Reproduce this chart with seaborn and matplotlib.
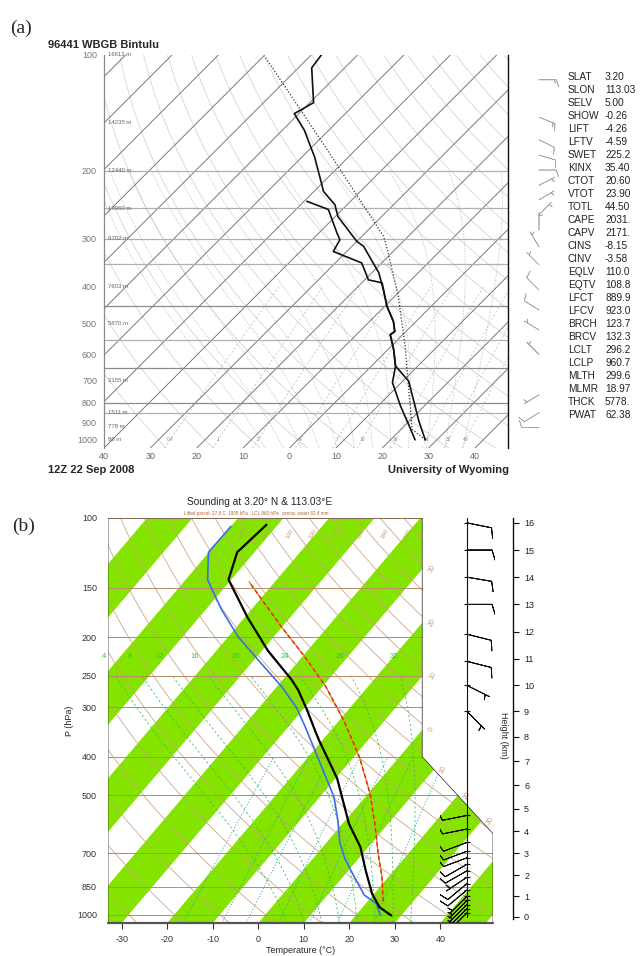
import numpy as np
import pandas as pd
import matplotlib
matplotlib.use("Agg")
import matplotlib.pyplot as plt
from matplotlib.patches import Polygon
import seaborn as sns

sns.set_theme(style="white")
plt.rcParams["font.family"] = ["Liberation Sans", "DejaVu Sans"]

# ---------------- data: panel (a) (UWyo sounding) ----------------
a_T_p = [1000, 894, 704, 643, 582, 533, 523, 492, 450, 407, 368, 314, 305, 263, 245, 226, 217, 184, 157, 142, 133, 108, 100]
a_T = [27.5, 22.1, 11.3, 5.2, 1.2, -2.7, -2.4, -4.9, -9.5, -13.9, -18.5, -27.5, -30.0, -39.4, -42.6, -48.0, -49.8, -57.3, -65.2, -71.0, -69.2, -77.1, -77.8]
a_Td_p = [1000, 939, 817, 710, 643, 582, 533, 523, 492, 450, 391, 388, 384, 347, 324, 302, 290, 252, 240]
a_Td = [25.3, 22.1, 14.9, 8.1, 5.2, 1.2, -2.7, -2.4, -4.9, -9.5, -15.6, -17.1, -19.2, -24.3, -32.9, -34.0, -36.1, -43.0, -49.4]
a_par_p = [1000, 939, 740, 571, 424, 320, 296, 176, 101]
a_par_T = [27.5, 22.4, 13.1, 3.0, -9.2, -21.7, -25.3, -56.2, -89.6]
a_hgt_p = [100, 150, 200, 250, 300, 400, 500, 700, 850, 925, 1000]
a_hgt_lab = ["16613 m", "14235 m", "12440 m", "10960 m", "9702 m", "7603 m", "5870 m", "3155 m", "1511 m", "778 m", "86 m"]
a_isobars = [200, 250, 300, 350, 450, 550, 650, 800, 850]
a_mix = [0.4, 1, 2, 4, 7, 10, 16, 24, 32, 40]
a_barb_p = [116, 145, 166, 182, 199, 218, 238, 260, 285, 315, 351, 408, 460, 518, 600, 764, 850, 929]
a_barb_u = [-15, -12, -10, -10, -8, -6, -5, -5, 0, 3, 5, 8, 8, 5, 3, 5, 8, 10]
a_barb_v = [0, 5, 5, 3, 0, -3, -3, -5, -5, -5, -5, -8, -5, -3, -3, 3, 5, 0]
stat_names = ["SLAT", "SLON", "SELV", "SHOW", "LIFT", "LFTV", "SWET", "KINX", "CTOT", "VTOT", "TOTL",
              "CAPE", "CAPV", "CINS", "CINV", "EQLV", "EQTV", "LFCT", "LFCV", "BRCH", "BRCV", "LCLT",
              "LCLP", "MLTH", "MLMR", "THCK", "PWAT"]
stat_vals = ["3.20", "113.03", "5.00", "-0.26", "-4.26", "-4.59", "225.2", "35.40", "20.60", "23.90", "44.50",
             "2031.", "2171.", "-8.15", "-3.58", "110.0", "108.8", "889.9", "923.0", "123.7", "132.3", "296.2",
             "960.7", "299.6", "18.97", "5778.", "62.38"]

# ---------------- data: panel (b) (RadioSonde style) ----------------
b_T_p = [1005, 958, 887, 774, 676, 590, 454, 363, 343, 305, 272, 256, 216, 178, 143, 122, 104]
b_T = [27.8, 23.7, 19.6, 13.8, 8.3, 1.4, -9.6, -20.8, -23.5, -29.0, -34.6, -38.0, -48.7, -59.4, -70.6, -73.8, -72.5]
b_Td_p = [1005, 958, 941, 893, 808, 724, 658, 575, 505, 425, 336, 300, 266, 228, 199, 170, 143, 122, 105]
b_Td = [25.5, 23.2, 22.6, 18.1, 12.8, 7.1, 2.9, -1.9, -6.9, -15.1, -26.3, -31.9, -39.0, -49.1, -57.9, -66.6, -75.2, -80.1, -80.0]
b_par_p = [926, 808, 700, 598, 494, 400, 324, 266, 224, 188, 145]
b_par_T = [23.4, 18.8, 13.3, 7.6, 0.3, -8.8, -19.0, -29.3, -39.4, -50.2, -65.6]
b_ptick = [1000, 850, 700, 500, 400, 300, 250, 200, 150, 100]
b_ttick = [-30, -20, -10, 0, 10, 20, 30, 40]
b_pseudo = [4, 8, 12, 16, 20, 24, 28, 32]
b_mixrat = [1, 2, 3, 5, 8, 12, 20]
b_iso_lab = [-30, -20, -10, 0, 10, 20, 30]
b_heights = list(range(0, 17))
b_barb_z = [16, 15, 14, 13, 11.9, 10.9, 10.0, 9.0, 4.7, 4.1, 3.5, 3.1, 2.8, 2.5, 2.2, 1.9, 1.6, 1.3, 1.0, 0.8, 0.6, 0.4, 0.2]
b_barb_u = [-10, -10, -12, -10, -8, -8, -6, -5, 10, 10, 8, 8, 8, 7, 7, 6, 6, 6, 5, 5, 5, 5, 5]
b_barb_v = [2, 0, 2, 0, 2, 2, 3, 5, 2, 2, 3, 3, 3, 4, 4, 4, 5, 5, 5, 5, 5, 5, 5]

# ---------------- helpers ----------------
W, H = 643, 956
fig = plt.figure(figsize=(W / 100, H / 100), dpi=100)


def fax(x0, y0, x1, y1):
    return fig.add_axes([x0 / W, 1 - y1 / H, (x1 - x0) / W, (y1 - y0) / H])


def ftext(x, y, s, **kw):
    fig.text(x / W, 1 - y / H, s, **kw)


def dry_T(theta_c, p):
    return (theta_c + 273.15) * (np.asarray(p) / 1000.0) ** 0.2857 - 273.15


def sat_es(T):
    return 6.112 * np.exp(17.67 * T / (T + 243.5))


def mixr_T(w_gkg, p):
    w = w_gkg / 1000.0
    e = w * np.asarray(p) / (0.622 + w)
    l = np.log(e / 6.112)
    return 243.5 * l / (17.67 - l)


def moist_curve(tw, ptop=100.0):
    def rate(T, p):
        Tk = T + 273.15
        es = sat_es(T)
        rs = 0.622 * es / (p - es)
        return (287.04 * Tk + 2.501e6 * rs) / p / (1005.7 + 2.501e6 ** 2 * rs * 0.622 / (287.04 * Tk ** 2))

    def integ(ps):
        Ts = [tw]
        for i in range(1, len(ps)):
            p0, T0 = ps[i - 1], Ts[-1]
            dp = ps[i] - p0
            k1 = rate(T0, p0)
            k2 = rate(T0 + k1 * dp / 2, p0 + dp / 2)
            Ts.append(T0 + k2 * dp)
        return np.array(Ts)

    up = np.arange(1000.0, ptop - 0.1, -2.0)
    dn = np.arange(1000.0, 1051.0, 2.0)
    Tu, Td_ = integ(up), integ(dn)
    p = np.concatenate([dn[::-1], up[1:]])
    T = np.concatenate([Td_[::-1], Tu[1:]])
    return p, T


def std_p(z_km):
    z = np.asarray(z_km, dtype=float) * 1000.0
    return np.where(z <= 11000, 1013.25 * (1 - 2.25577e-5 * z) ** 5.25588,
                    226.32 * np.exp(-(z - 11000) / 6341.6))


PG = np.geomspace(1050, 100, 150)

# =====================================================================
# Panel (a)
# =====================================================================
K_A = 36.0


def xa(T, p):
    return np.asarray(T) + K_A * np.log(1050.0 / np.asarray(p))


axA = fax(104, 55, 508, 448)
axA.set_yscale("log")
axA.set_ylim(1050, 100)
axA.set_xlim(-40, 47.1)

for th in range(-30, 220, 10):
    axA.plot(xa(dry_T(th, PG), PG), PG, color="#cdcdcd", lw=0.5, zorder=1)
for tw in range(-8, 40, 4):
    pm, Tm = moist_curve(tw, 200)
    axA.plot(xa(Tm, pm), pm, color="#a8a8a8", lw=0.6, ls=(0, (1, 2)), zorder=1)
pmix = np.geomspace(1050, 400, 40)
for w in a_mix:
    axA.plot(xa(mixr_T(w, pmix), pmix), pmix, color="#bbbbbb", lw=0.5, ls=(0, (3, 3)), zorder=1)
    axA.text(xa(mixr_T(w, 1000), 1000), 1000, f"{w:g}", fontsize=3.5, color="#888", ha="center", va="center")
for t in range(-130, 50, 10):
    axA.plot(xa(t, PG), PG, color="#7a7a7a", lw=0.7, zorder=2)
for pb in a_isobars:
    axA.axhline(pb, color="#8c8c8c" if pb in (450, 650, 800) else "#b0b0b0", lw=0.9, zorder=2)

dfa_T = pd.DataFrame({"x": xa(a_T, a_T_p), "p": a_T_p})
dfa_Td = pd.DataFrame({"x": xa(a_Td, a_Td_p), "p": a_Td_p})
dfa_par = pd.DataFrame({"x": xa(a_par_T, a_par_p), "p": a_par_p})
sns.lineplot(data=dfa_par, x="x", y="p", sort=False, estimator=None, ax=axA, color="#333", lw=0.9,
             linestyle=(0, (1, 1.5)), zorder=3)
sns.lineplot(data=dfa_T, x="x", y="p", sort=False, estimator=None, ax=axA, color="#111", lw=1.2, zorder=4)
sns.lineplot(data=dfa_Td, x="x", y="p", sort=False, estimator=None, ax=axA, color="#111", lw=1.2, zorder=4)

for pp, lab in zip(a_hgt_p, a_hgt_lab):
    axA.text(-39.2, pp, lab, fontsize=4.3, color="#666", va="center", ha="left")

axA.set_yticks(list(range(100, 1001, 100)))
axA.set_yticklabels([str(v) for v in range(100, 1001, 100)], fontsize=6.5, color="#777")
axA.yaxis.set_minor_locator(matplotlib.ticker.NullLocator())
axA.set_xticks(list(range(-40, 41, 10)))
axA.set_xticklabels([str(abs(v)) for v in range(-40, 41, 10)], fontsize=6.5, color="#666")
axA.tick_params(axis="y", length=0, pad=5)
axA.tick_params(axis="x", length=0, pad=3)
axA.set_xlabel("")
axA.set_ylabel("")
for s in ["top", "bottom"]:
    axA.spines[s].set_visible(False)
axA.spines["left"].set_color("#8a8a8a")
axA.spines["left"].set_linewidth(0.9)
axA.spines["right"].set_color("#111")
axA.spines["right"].set_linewidth(1.0)

# barbs column (a)
axAb = fax(515, 55, 575, 448)
axAb.set_yscale("log")
axAb.set_ylim(1050, 100)
axAb.set_xlim(-30, 30)
axAb.barbs(np.zeros(len(a_barb_p)) - 6, a_barb_p, a_barb_u, a_barb_v, length=5, lw=0.5, color="#a8a8a8")
axAb.axis("off")

ftext(10, 28, "(a)", fontsize=14, family=["Liberation Serif", "DejaVu Serif"], va="center")
ftext(48, 45, "96441 WBGB Bintulu", fontsize=8, fontweight="bold", va="center")
ftext(48, 470, "12Z 22 Sep 2008", fontsize=8, fontweight="bold", va="center")
ftext(448, 470, "University of Wyoming", fontsize=8, fontweight="bold", va="center", ha="center")
for i, (nm, vl) in enumerate(zip(stat_names, stat_vals)):
    ftext(568, 77 + 13.0 * i, nm, fontsize=7.3, va="center", color="#222")
    ftext(605, 77 + 13.0 * i, vl, fontsize=7.3, va="center", color="#222")

# =====================================================================
# Panel (b)
# =====================================================================
S_B = 0.90692 * 44.061 / 0.54


def xb(T, p):
    return np.asarray(T) + S_B * np.log10(1050.0 / np.asarray(p))


XMIN = -33.0
XMAX = float(xb(50, 1000))
KINK = float(xb(5, 400))
GREEN = "#84e400"
BROWN = "#c9a27c"

axB = fax(108, 518, 493, 923)
axB.set_yscale("log")
axB.set_ylim(1050, 100)
axB.set_xlim(XMIN, XMAX)
clip = Polygon([(XMIN, 100), (XMIN, 1050), (XMAX, 1050), (XMAX, 625), (KINK, 400), (KINK, 100)],
               closed=True, transform=axB.transData, facecolor="none", edgecolor="#222", lw=0.5, zorder=6)
axB.add_patch(clip)

for a in range(-140, 50, 20):
    band = Polygon([(xb(a, 100), 100), (xb(a, 1050), 1050), (xb(a + 10, 1050), 1050), (xb(a + 10, 100), 100)],
                   closed=True, facecolor=GREEN, edgecolor="none", zorder=1)
    axB.add_patch(band)
    band.set_clip_path(clip)

for th in range(-30, 180, 10):
    ln, = axB.plot(xb(dry_T(th, PG), PG), PG, color=BROWN, lw=0.55, zorder=2)
    ln.set_clip_path(clip)
for tw in b_pseudo:
    pm, Tm = moist_curve(tw, 250)
    ln, = axB.plot(xb(Tm, pm), pm, color="#3dbb55", lw=0.55, ls=(0, (3, 3)), zorder=2)
    ln.set_clip_path(clip)
    pl, Tl = moist_curve(tw, 224)
    axB.text(xb(Tl[-1], pl[-1]), pl[-1], str(tw), fontsize=5.5, color="#22cc44", ha="center", va="center", zorder=3)
pmx = np.geomspace(1050, 400, 40)
for w in b_mixrat:
    ln, = axB.plot(xb(mixr_T(w, pmx), pmx), pmx, color="#22aa99", lw=0.7, ls=(0, (1, 2)), zorder=2)
    ln.set_clip_path(clip)

pres = [1050, 1000, 850, 700, 500, 400, 300, 250, 200, 150, 100]
xpr = [XMAX] * 4 + [float(xb(20, 500))] + [KINK] * 6
for pp, xr in zip(pres, xpr):
    axB.plot([XMIN, xr], [pp, pp], color="#b88a66", lw=0.7, zorder=2)

for t in b_iso_lab:
    if t <= 0:
        lp = 1050.0 / 10 ** ((KINK - t) / S_B)
        axB.text(KINK + 1.2, lp, str(t).replace("-", ""), fontsize=5, color="#c89a78", rotation=60,
                 ha="left", va="center", clip_on=False)
    else:
        xs = np.linspace(KINK, XMAX, 200)
        ps = 400 * (625.0 / 400) ** ((xs - KINK) / (XMAX - KINK))
        d = xs - xb(t, ps)
        k = np.argmin(np.abs(d))
        axB.text(xs[k] + 1.0, ps[k], str(t), fontsize=5, color="#c89a78", rotation=60,
                 ha="left", va="center", clip_on=False)
for th in range(100, 180, 10):
    xt = xb(dry_T(th, 103), 103)
    if XMIN < xt < KINK:
        axB.text(xt, 106, str(th), fontsize=4.5, color="#c89a78", rotation=60, ha="center", va="top", zorder=3)

dfb_T = pd.DataFrame({"x": xb(b_T, b_T_p), "p": b_T_p})
dfb_Td = pd.DataFrame({"x": xb(b_Td, b_Td_p), "p": b_Td_p})
dfb_par = pd.DataFrame({"x": xb(b_par_T, b_par_p), "p": b_par_p})
sns.lineplot(data=dfb_par, x="x", y="p", sort=False, estimator=None, ax=axB, color="#d8a000", lw=1.0, zorder=4)
sns.lineplot(data=dfb_par, x="x", y="p", sort=False, estimator=None, ax=axB, color="#e0202a", lw=1.0,
             linestyle=(0, (3, 2)), zorder=4)
sns.lineplot(data=dfb_Td, x="x", y="p", sort=False, estimator=None, ax=axB, color="#3a6ee8", lw=1.2, zorder=5)
sns.lineplot(data=dfb_T, x="x", y="p", sort=False, estimator=None, ax=axB, color="#000", lw=1.6, zorder=5)

axB.plot([XMIN, XMAX], [1050, 1050], color="#555", lw=1.6, zorder=7, clip_on=False)
axB.set_xticks(b_ttick)
axB.set_xticklabels([str(v) for v in b_ttick], fontsize=6.5, color="#333")
axB.set_yticks(b_ptick)
axB.set_yticklabels([str(v) for v in b_ptick], fontsize=6.5, color="#333")
axB.yaxis.set_minor_locator(matplotlib.ticker.NullLocator())
axB.tick_params(axis="x", length=4, width=0.8, color="#333", bottom=True, pad=5)
axB.tick_params(axis="y", length=0, pad=8)
for s in axB.spines.values():
    s.set_visible(False)
axB.set_xlabel("Temperature (°C)", fontsize=6.5, labelpad=1)
axB.set_ylabel("P (hPa)", fontsize=6.5, labelpad=2)

ftext(260, 502, "Sounding at 3.20° N & 113.03°E", fontsize=7.3, ha="center", va="center")
ftext(256, 514, "Lifted parcel: 27.8 C  1005 hPa   LCL 960 hPa   precip. water 62.4 mm", fontsize=3.3,
      color="#c0603a", ha="center", va="center")
ftext(12, 526, "(b)", fontsize=14, family=["Liberation Serif", "DejaVu Serif"], va="center")

# barbs column (b)
axW = fax(440, 518, 495, 923)
axW.set_yscale("log")
axW.set_ylim(1050, 100)
axW.set_xlim(-27, 28)
axW.plot([0, 0], [float(std_p(0)), 100], color="#111", lw=0.8)
bp = std_p(b_barb_z)
axW.plot(np.zeros(len(bp)), bp, ls="none", marker="_", ms=4, color="#111", mew=0.8)
axW.barbs(np.zeros(len(bp)), bp, b_barb_u, b_barb_v, length=6, lw=0.7, color="#111")
axW.axis("off")

# height axis (b)
axZ = fax(512, 518, 513, 923)
axZ.set_yscale("log")
axZ.set_ylim(1050, 100)
axZ.set_xticks([])
for s in ["left", "top", "bottom"]:
    axZ.spines[s].set_visible(False)
axZ.spines["right"].set_color("#111")
axZ.spines["right"].set_linewidth(1.0)
axZ.spines["right"].set_bounds(float(std_p(0)) * 1.01, 100)
axZ.yaxis.set_ticks_position("right")
axZ.set_yticks(std_p(b_heights))
axZ.set_yticklabels([str(h) for h in b_heights], fontsize=6.5, color="#222")
axZ.yaxis.set_minor_locator(matplotlib.ticker.NullLocator())
axZ.tick_params(axis="y", length=4, width=0.8, color="#111", pad=4)
ftext(503, 735, "Height (km)", fontsize=6.5, rotation=-90, ha="center", va="center")

fig.savefig("out.png", dpi=100)
